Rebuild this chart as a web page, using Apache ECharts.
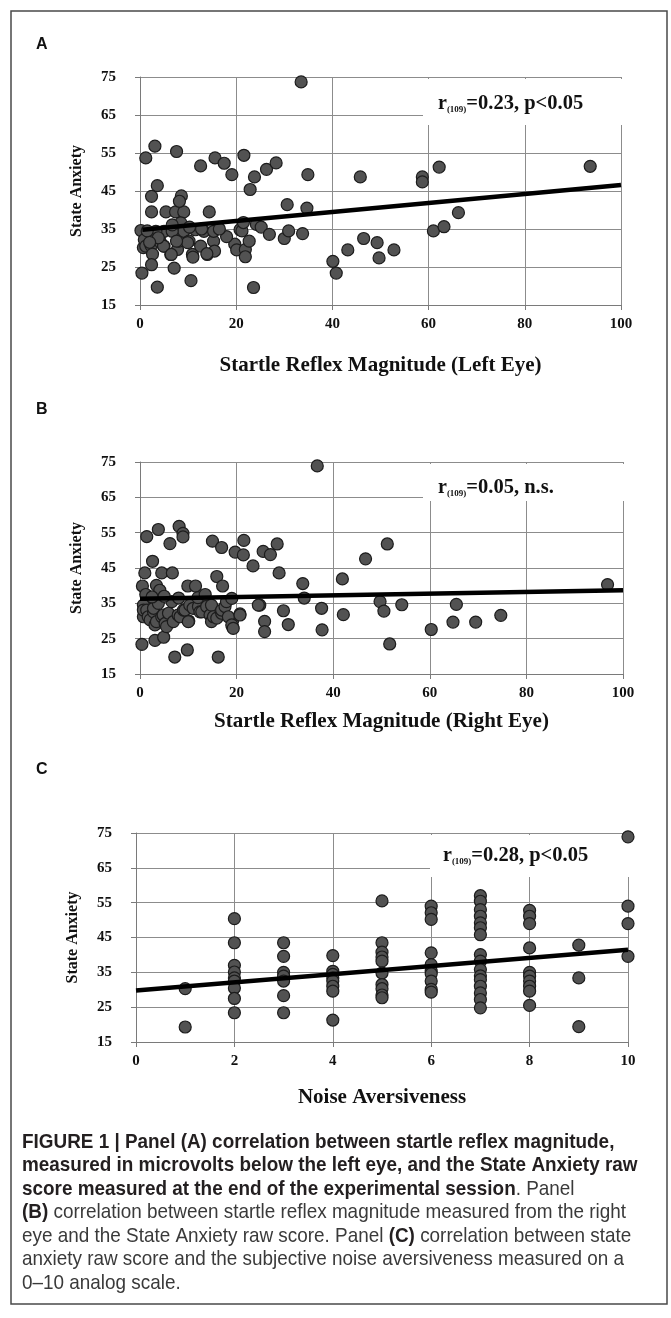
<!DOCTYPE html>
<html><head><meta charset="utf-8">
<script src="https://cdn.jsdelivr.net/npm/echarts@6/dist/echarts.min.js"></script>
<style>html,body{margin:0;padding:0;background:#fff}#c{width:671px;height:1318px}</style>
</head><body><div id="c"></div>
<script>
// ---- data ----
const panelLabels = ['A', 'B', 'C'];
const yAxisTitle = 'State Anxiety';
const xAxisTitles = ['Startle Reflex Magnitude (Left Eye)', 'Startle Reflex Magnitude (Right Eye)', 'Noise Aversiveness'];
const annotationStats = ['=0.23, p<0.05', '=0.05, n.s.', '=0.28, p<0.05'];
const annotationDf = '(109)';

// Panel A: startle left eye (x) vs state anxiety (y)
const pointsA = [[33.5,73.7],[1.2,53.7],[3.1,56.8],[7.6,55.4],[3.6,46.4],[2.4,43.6],[2.4,39.5],[5.4,39.5],[7.4,39.5],[9.1,39.5],[8.6,43.7],[8.2,42.3],[12.6,51.6],[15.6,53.7],[17.5,52.3],[19.1,49.3],[21.6,54.4],[23.8,48.7],[22.9,45.4],[26.3,50.7],[28.3,52.4],[34.9,49.3],[14.4,39.5],[30.6,41.4],[34.7,40.5],[0.2,34.6],[0.4,23.4],[0.7,30.1],[0.9,32.2],[1.2,30.5],[2.3,30.6],[2.6,28.4],[2.4,25.6],[3.6,19.7],[4.0,32.7],[4.3,31.4],[5.0,30.5],[5.0,34.4],[3.3,34.4],[6.4,28.3],[7.1,24.7],[7.8,29.6],[8.1,31.8],[8.5,36.6],[9.1,34.4],[6.7,34.4],[6.7,36.1],[10.2,31.8],[10.9,28.3],[10.6,21.4],[11.5,34.8],[12.6,30.5],[13.3,34.4],[14.0,28.3],[15.3,31.8],[15.3,34.4],[15.5,29.2],[19.7,31.0],[20.1,29.5],[20.8,34.8],[21.2,34.5],[21.5,36.7],[21.9,29.6],[21.9,27.7],[22.7,31.8],[23.6,19.6],[24.2,36.2],[25.2,35.5],[26.9,33.6],[30.0,32.5],[30.9,34.5],[33.8,33.8],[40.1,26.5],[40.8,23.4],[43.2,29.5],[45.8,48.7],[46.5,32.5],[49.3,31.4],[49.7,27.4],[52.8,29.5],[58.7,48.7],[58.7,47.4],[62.2,51.3],[93.6,51.5],[66.2,39.3],[61.0,34.5],[63.2,35.6],[10.3,35.5],[11.0,27.6],[12.8,35.0],[13.9,28.5],[4.9,30.5],[6.5,28.3],[9.9,31.4],[3.8,32.7],[1.5,34.5],[2.0,31.5],[7.6,31.8],[18.0,33.0],[16.5,35.0]];
const trendA = [[0.5,34.8],[100,46.6]];

// Panel B: startle right eye (x) vs state anxiety (y)
const pointsB = [[36.7,73.9],[1.4,53.9],[3.8,55.9],[8.1,56.8],[8.9,54.8],[8.9,53.8],[6.2,51.9],[2.6,46.9],[1.0,43.6],[4.5,43.6],[6.7,43.6],[0.5,39.9],[3.4,40.1],[4.1,38.7],[9.9,39.9],[11.5,39.9],[15.0,52.6],[16.9,50.8],[15.9,42.6],[17.1,39.9],[19.7,49.5],[21.5,52.8],[21.4,48.7],[23.4,45.6],[25.5,49.7],[27.0,48.8],[28.4,51.8],[28.8,43.6],[33.7,40.6],[34.0,36.5],[41.9,41.9],[46.7,47.6],[51.2,51.8],[49.7,35.5],[50.5,32.8],[51.7,23.5],[54.2,34.6],[60.3,27.6],[64.8,29.7],[65.5,34.7],[69.5,29.7],[74.7,31.6],[96.8,40.3],[0.4,23.4],[3.1,24.5],[4.9,25.4],[7.2,19.8],[9.8,21.8],[16.2,19.8],[10.1,30.0],[19.2,28.3],[19.2,30.2],[20.7,32.0],[24.8,34.5],[25.8,29.9],[25.8,27.0],[29.7,32.9],[30.7,29.0],[37.6,33.6],[37.7,27.5],[42.1,31.8],[0.7,34.5],[0.7,31.2],[0.7,33.1],[1.4,33.1],[1.7,31.2],[2.1,30.3],[2.8,32.6],[2.8,33.6],[3.1,28.9],[3.4,29.8],[3.8,35.0],[4.5,31.2],[4.8,31.7],[5.2,29.3],[5.5,28.4],[5.9,32.2],[6.6,35.5],[6.9,29.8],[7.9,31.7],[8.3,31.2],[9.0,33.1],[9.3,33.1],[10.0,29.8],[10.3,34.5],[11.0,33.6],[12.1,34.1],[12.4,32.6],[12.8,32.6],[13.8,34.1],[14.5,31.7],[14.8,29.8],[14.8,34.5],[15.2,31.2],[15.9,30.8],[16.9,32.2],[16.9,33.1],[17.6,34.1],[17.9,35.5],[18.3,31.2],[19.0,28.9],[19.3,27.9],[19.0,36.4],[20.7,31.7],[24.5,34.5],[1.2,37.5],[2.5,36.8],[5.0,37.0],[8.0,36.5],[12.0,36.6],[13.5,37.5]];
const trendB = [[0,36.3],[100,38.7]];

// Panel C: noise aversiveness (x) vs state anxiety (y)
const pointsC = [[1,30.3],[1,19.3],[2,50.4],[2,43.5],[2,37.0],[2,35.1],[2,33.4],[2,32.5],[2,30.5],[2,27.5],[2,23.4],[3,43.5],[3,39.6],[3,35.0],[3,33.9],[3,32.5],[3,28.3],[3,23.4],[4,39.8],[4,35.3],[4,34.4],[4,33.4],[4,32.5],[4,31.0],[4,29.6],[4,21.3],[5,55.5],[5,43.5],[5,40.8],[5,39.4],[5,38.2],[5,34.8],[5,31.5],[5,30.3],[5,28.5],[5,27.7],[6,54.0],[6,52.1],[6,50.2],[6,40.6],[6,37.2],[6,35.3],[6,34.6],[6,32.5],[6,30.1],[6,29.3],[7,57.0],[7,55.4],[7,53.0],[7,51.1],[7,49.2],[7,47.8],[7,45.8],[7,40.1],[7,38.2],[7,35.8],[7,34.0],[7,32.9],[7,31.0],[7,29.1],[7,27.2],[7,24.8],[8,52.8],[8,51.1],[8,49.0],[8,42.0],[8,35.0],[8,33.9],[8,32.5],[8,31.0],[8,29.6],[8,25.5],[9,42.8],[9,33.4],[9,19.4],[10,73.9],[10,54.0],[10,49.0],[10,39.6]];
const trendC = [[0,29.8],[10,41.5]];

const xRanges = [[0,100,20],[0,100,20],[0,10,2]];
const yRange = [15,75,10];

// ---- layout / style ----
const SERIF = "'Liberation Serif','Times New Roman',serif";
const SANS = "'Liberation Sans',Arial,sans-serif";
const grids = [
  {left:140, top:77, width:481, height:228},
  {left:140, top:462, width:483, height:212},
  {left:136, top:833, width:492, height:209}
];
const xNameGaps = [50, 37, 45];
const panelLabelY = [45, 410, 770];
const annBoxes = [
  {x:423, y:79, w:206, h:46, tx:438, ty:103},
  {x:423, y:464, w:206, h:37, tx:438, ty:487},
  {x:430, y:835, w:204, h:42, tx:443, ty:855}
];
const gridColor = '#8c8c8c';
const labelStyle = {fontFamily:SERIF, fontWeight:'bold', fontSize:15, color:'#111'};

const xAxes = [], yAxes = [], series = [];
const pts = [pointsA, pointsB, pointsC];
const trends = [trendA, trendB, trendC];
for (let i = 0; i < 3; i++) {
  xAxes.push({
    type:'value', gridIndex:i, min:xRanges[i][0], max:xRanges[i][1], interval:xRanges[i][2],
    axisLine:{show:true, onZero:false, lineStyle:{color:'#7a7a7a', width:1}},
    axisTick:{show:true, length:5, lineStyle:{color:'#7a7a7a'}},
    axisLabel:Object.assign({margin:12}, labelStyle),
    splitLine:{show:true, lineStyle:{color:gridColor, width:1}},
    name:xAxisTitles[i], nameLocation:'middle', nameGap:xNameGaps[i],
    nameTextStyle:{fontFamily:SERIF, fontWeight:'bold', fontSize:21, color:'#111'}
  });
  yAxes.push({
    type:'value', gridIndex:i, min:yRange[0], max:yRange[1], interval:yRange[2],
    axisLine:{show:true, onZero:false, lineStyle:{color:'#7a7a7a', width:1}},
    axisTick:{show:true, length:5, lineStyle:{color:'#7a7a7a'}},
    axisLabel:Object.assign({margin:24}, labelStyle),
    splitLine:{show:true, lineStyle:{color:gridColor, width:1}},
    name:yAxisTitle, nameLocation:'middle', nameGap:55, nameRotate:90,
    nameTextStyle:{fontFamily:SERIF, fontWeight:'bold', fontSize:16, color:'#111'}
  });
  series.push({
    type:'scatter', xAxisIndex:i, yAxisIndex:i, data:pts[i], symbol:'circle', symbolSize:12, z:2,
    itemStyle:{color:'#525252', borderColor:'#1c1c1c', borderWidth:1.2, opacity:1}
  });
  series.push({
    type:'line', xAxisIndex:i, yAxisIndex:i, data:trends[i], symbol:'none', z:3,
    lineStyle:{color:'#000', width:4.5}, silent:true
  });
}

const graphics = [
  {type:'rect', shape:{x:11, y:11, width:656, height:1293}, style:{fill:'none', stroke:'#4a4a4a', lineWidth:1.5}, z:0}
];
for (let i = 0; i < 3; i++) {
  graphics.push({type:'text', x:36, y:panelLabelY[i], style:{text:panelLabels[i], font:"bold 16px " + SANS, fill:'#111', verticalAlign:'middle'}, z:5});
  const b = annBoxes[i];
  graphics.push({type:'rect', shape:{x:b.x, y:b.y, width:b.w, height:b.h}, style:{fill:'#fff'}, z:1});
  graphics.push({type:'text', x:b.tx, y:b.ty, z:5, style:{
    text:'{r|r}{s|' + annotationDf + '}{t|' + annotationStats[i] + '}',
    verticalAlign:'middle',
    rich:{
      r:{fontFamily:SERIF, fontWeight:'bold', fontSize:20, fill:'#111', lineHeight:22, verticalAlign:'bottom'},
      s:{fontFamily:SERIF, fontWeight:'bold', fontSize:9, fill:'#111', lineHeight:14, verticalAlign:'bottom'},
      t:{fontFamily:SERIF, fontWeight:'bold', fontSize:20.5, fill:'#111', lineHeight:22, verticalAlign:'bottom'}
    }
  }});
}

const captionLines = [
  '{b|FIGURE 1 | Panel (A) correlation between startle reflex magnitude,}',
  '{b|measured in microvolts below the left eye, and the State Anxiety raw}',
  '{b|score measured at the end of the experimental session}{n|. Panel}',
  '{b|(B)}{n| correlation between startle reflex magnitude measured from the right}',
  '{n|eye and the State Anxiety raw score. Panel }{b|(C)}{n| correlation between state}',
  '{n|anxiety raw score and the subjective noise aversiveness measured on a}',
  '{n|0\u201310 analog scale.}'
];
graphics.push({type:'text', x:22, y:1130, scaleX:0.9, z:5, style:{
  text:captionLines.join('\n'),
  rich:{
    b:{fontFamily:SANS, fontWeight:'bold', fontSize:21, fill:'#231f20', lineHeight:23.5},
    n:{fontFamily:SANS, fontWeight:'normal', fontSize:21, fill:'#3a3a3a', lineHeight:23.5}
  }
}});

const chart = echarts.init(document.getElementById('c'), null, {renderer:'canvas'});
chart.setOption({
  animation:false,
  backgroundColor:'#fff',
  grid:grids.map(g => Object.assign({containLabel:false}, g)),
  xAxis:xAxes, yAxis:yAxes, series:series, graphic:graphics
});
</script></body></html>
